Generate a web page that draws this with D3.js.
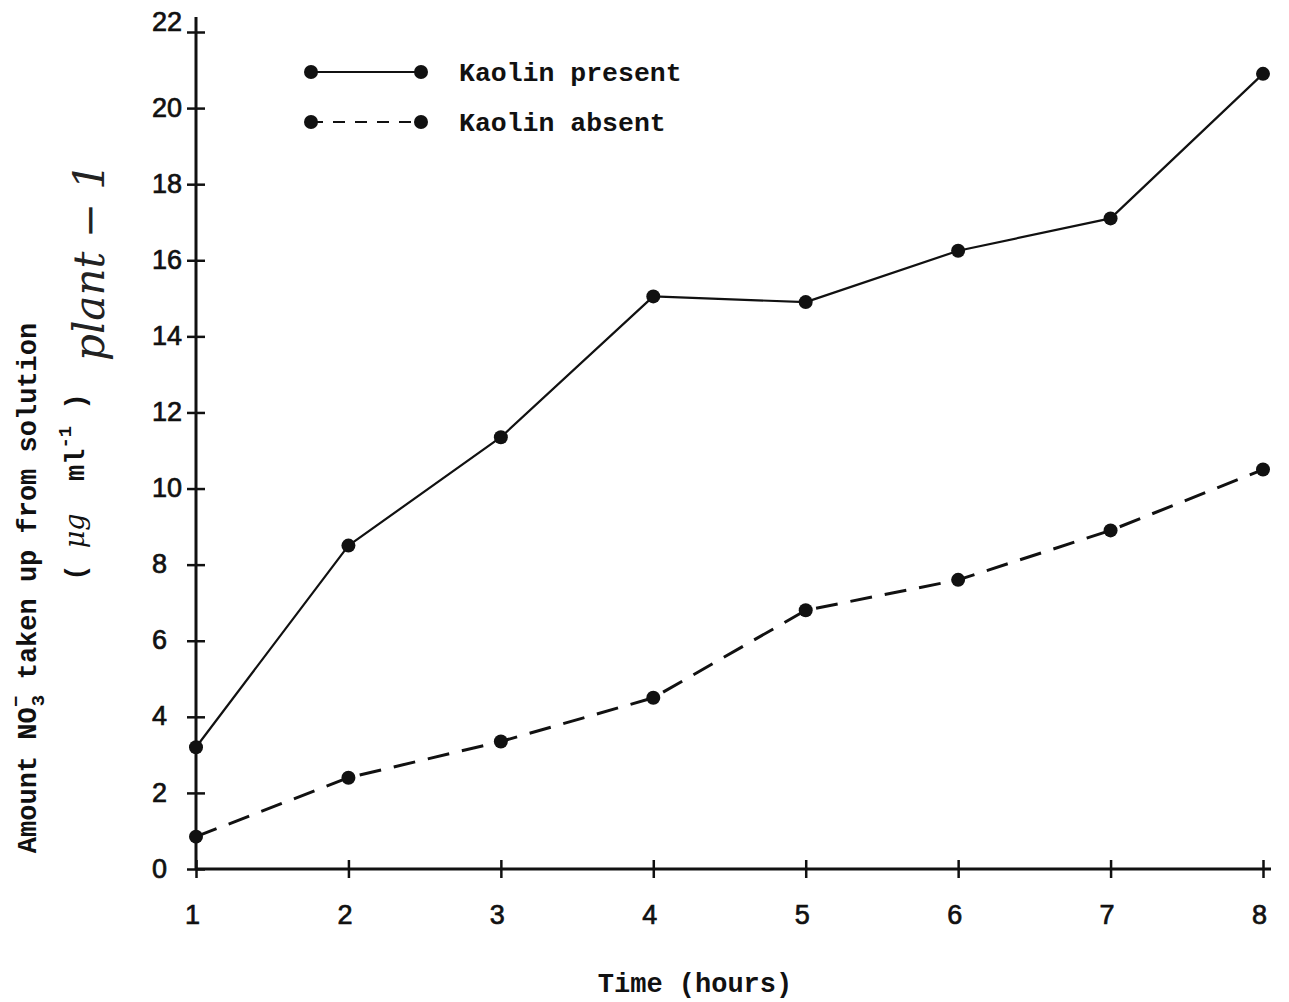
<!DOCTYPE html>
<html>
<head>
<meta charset="utf-8">
<script src="https://cdn.jsdelivr.net/npm/d3@7"></script>
<style>
  body { margin: 0; background: #fff; }
  svg { display: block; }
  .tick text { font-family: "Liberation Sans", Arial, sans-serif; font-size: 27px; font-weight: normal; fill: #111; stroke: #111; stroke-width: 0.7px; }
  .mono { font-family: "Liberation Mono", "Courier New", monospace; font-weight: bold; fill: #111; white-space: pre; }
</style>
</head>
<body>
<svg id="chart" width="1289" height="1002"></svg>
<script>
// hours after start
const hours = [1, 2, 3, 4, 5, 6, 7, 8];
// NO3- taken up (ug/ml)
const kaolinPresent = [3.2, 8.5, 11.35, 15.05, 14.9, 16.25, 17.1, 20.9];
const kaolinAbsent = [0.85, 2.4, 3.35, 4.5, 6.8, 7.6, 8.9, 10.5];
const yTicks = [0, 2, 4, 6, 8, 10, 12, 14, 16, 18, 20, 22];
const seriesNames = ["Kaolin present", "Kaolin absent"];

const svg = d3.select("#chart");
const margin = {top: 32, right: 26, bottom: 133, left: 196};
const width = +svg.attr("width");
const height = +svg.attr("height");

const x = d3.scaleLinear()
  .domain([1, 8])
  .range([margin.left, width - margin.right]);
const y = d3.scaleLinear()
  .domain([0, 22])
  .range([height - margin.bottom, margin.top]);

// x axis
const xAxis = svg.append("g")
  .attr("transform", `translate(0,${y(0)})`)
  .call(d3.axisBottom(x).tickValues(hours).tickFormat(d3.format("d")).tickSizeOuter(0).tickPadding(30));
xAxis.select(".domain").attr("stroke", "#111").attr("stroke-width", 3)
  .attr("d", `M${x(1)},0H${x(8) + 8}`);
xAxis.selectAll(".tick line").attr("y1", -9).attr("y2", 9).attr("stroke", "#111").attr("stroke-width", 2.5);
xAxis.selectAll(".tick text").attr("dx", -4);

// y axis (labels typed flush left)
const yAxis = svg.append("g")
  .attr("transform", `translate(${x(1)},0)`)
  .call(d3.axisLeft(y).tickValues(yTicks).tickFormat(d3.format("d")).tickSizeOuter(0));
yAxis.select(".domain").attr("stroke", "#111").attr("stroke-width", 3)
  .attr("d", `M0,${y(0)}V${y(22) - 15}`);
yAxis.selectAll(".tick line").attr("x1", -9).attr("x2", 9).attr("stroke", "#111").attr("stroke-width", 2.5);
yAxis.selectAll(".tick text")
  .attr("text-anchor", "start")
  .attr("x", -44)
  .attr("dy", d => d === 22 ? "-0.05em" : "0.3em");

// lines
const line = d3.line()
  .x((d, i) => x(hours[i]))
  .y(d => y(d));

svg.append("path")
  .datum(kaolinPresent)
  .attr("fill", "none")
  .attr("stroke", "#111")
  .attr("stroke-width", 2.2)
  .attr("stroke-linejoin", "round")
  .attr("d", line);

svg.append("path")
  .datum(kaolinAbsent)
  .attr("fill", "none")
  .attr("stroke", "#111")
  .attr("stroke-width", 3)
  .attr("stroke-dasharray", "22,13")
  .attr("d", line);

[kaolinPresent, kaolinAbsent].forEach(series => {
  svg.append("g").selectAll("circle")
    .data(series)
    .enter()
    .append("circle")
      .attr("cx", (d, i) => x(hours[i]))
      .attr("cy", d => y(d))
      .attr("r", 7)
      .attr("fill", "#111");
});

// legend
const legend = svg.append("g");
const legendRows = [
  {name: seriesNames[0], y: 72, dash: null},
  {name: seriesNames[1], y: 122, dash: "12,10"}
];
legendRows.forEach(r => {
  legend.append("line")
    .attr("x1", 311).attr("x2", 421)
    .attr("y1", r.y).attr("y2", r.y)
    .attr("stroke", "#111").attr("stroke-width", 2)
    .attr("stroke-dasharray", r.dash);
  legend.append("circle").attr("cx", 311).attr("cy", r.y).attr("r", 7).attr("fill", "#111");
  legend.append("circle").attr("cx", 421).attr("cy", r.y).attr("r", 7).attr("fill", "#111");
  legend.append("text")
    .attr("class", "mono")
    .attr("x", 459).attr("y", r.y + 9)
    .attr("font-size", 26.5)
    .text(r.name);
});

// x axis title
svg.append("text")
  .attr("class", "mono")
  .attr("x", 695).attr("y", 992)
  .attr("text-anchor", "middle")
  .attr("font-size", 27)
  .text("Time (hours)");

// y axis titles
const yt1 = svg.append("text")
  .attr("class", "mono")
  .attr("transform", "translate(36,588) rotate(-90)")
  .attr("text-anchor", "middle")
  .attr("font-size", 27);
yt1.append("tspan").text("Amount NO");
yt1.append("tspan").attr("font-size", 19).attr("dy", 8).attr("dx", 1).text("3");
yt1.append("tspan").attr("font-size", 19).attr("dy", -22).attr("dx", -12).text("\u2212");
yt1.append("tspan").attr("dy", 14).text(" taken up from solution");

const yt2 = svg.append("text")
  .attr("class", "mono")
  .attr("transform", "translate(84,487) rotate(-90)")
  .attr("text-anchor", "middle")
  .attr("font-size", 27);
yt2.append("tspan").text("( ");
yt2.append("tspan").attr("font-family", "DejaVu Serif, serif").attr("font-style", "italic").attr("font-weight", "normal").text("\u03bcg");
yt2.append("tspan").text("  ml");
yt2.append("tspan").attr("font-size", 19).attr("dy", -13).text("-1");
yt2.append("tspan").attr("dy", 13).text(" )");

// handwritten addition
svg.append("text")
  .attr("transform", "translate(104,262) rotate(-90)")
  .attr("text-anchor", "middle")
  .attr("font-family", "DejaVu Serif, serif")
  .attr("font-style", "italic")
  .attr("font-size", 42)
  .attr("fill", "#222")
  .text("plant  \u2212 1");
</script>
</body>
</html>
